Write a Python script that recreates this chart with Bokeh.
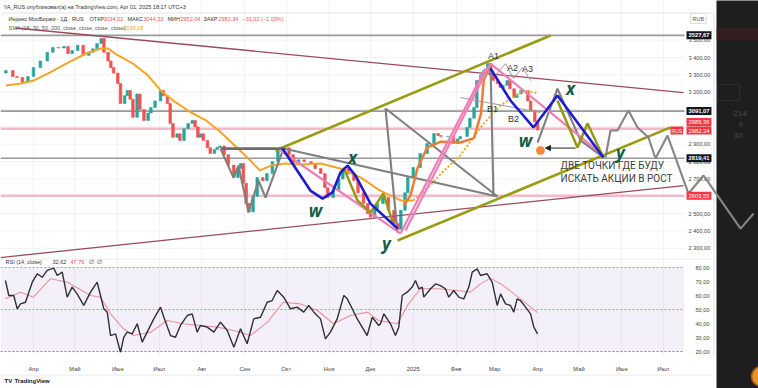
from bokeh.plotting import figure
from bokeh.layouts import row, column
from bokeh.models import (Range1d, FixedTicker, Label, BoxAnnotation,
                          Arrow, NormalHead, ColumnDataSource)
from bokeh.embed import file_html
from bokeh.resources import INLINE
from bokeh.core.properties import value

# ---------------- data (x = days since 2024-04-01) ----------------
candle_day = [-20, -15, -12, -8, -4, 0, 5, 10, 14, 18,
              22, 25, 28, 32, 36, 40, 43, 46, 49, 51,
              54, 56, 58, 61, 63, 66, 68, 70, 72, 75,
              77, 80, 83, 85, 88, 92, 94, 97, 99, 101,
              104, 106, 109, 112, 115, 117, 119, 121, 123, 126,
              128, 131, 133, 135, 138, 141, 145, 148, 150, 152,
              154, 156, 159, 162, 166, 169, 173, 177, 181, 185,
              188, 192, 196, 201, 204, 208, 211, 213, 217, 221,
              224, 228, 232, 235, 239, 242, 244, 247, 249, 253,
              257, 261, 264, 266, 269, 271, 275, 280, 285, 290,
              293, 295, 300, 304, 307, 309, 314, 316, 319, 321,
              324, 326, 329, 331, 333, 336, 338, 340, 343, 345,
              348, 350, 353, 355, 358, 360, 363, 365]
candle_close = [3325, 3290, 3285, 3256, 3290, 3342, 3380, 3430, 3458, 3455,
                3464, 3423, 3440, 3470, 3412, 3430, 3450, 3480, 3510, 3430,
                3380, 3342, 3310, 3250, 3135, 3180, 3210, 3160, 3055, 3190,
                3100, 3037, 3080, 3112, 3150, 3210, 3180, 3135, 3020, 2940,
                2960, 2922, 2990, 3020, 3037, 3000, 2940, 2960, 2922, 2880,
                2847, 2870, 2882, 2890, 2840, 2780, 2708, 2760, 2789, 2675,
                2560, 2510, 2600, 2708, 2690, 2731, 2800, 2864, 2880, 2840,
                2789, 2810, 2800, 2789, 2760, 2731, 2650, 2593, 2633, 2700,
                2760, 2730, 2691, 2620, 2558, 2500, 2480, 2530, 2558, 2593,
                2520, 2443, 2410, 2520, 2620, 2708, 2766, 2847, 2904, 2962,
                2950, 2945, 2945, 2904, 2930, 2945, 2997, 3050, 3112, 3267,
                3300, 3325, 3365, 3300, 3267, 3250, 3227, 3240, 3267, 3220,
                3170, 3190, 3210, 3210, 3150, 3095, 3030, 2982]
first_open = 3310

sma_day = [-20, -9, 0, 12, 25, 38, 49, 54, 59, 72, 83, 92, 103, 114, 125, 135, 148, 157,
           164, 172, 182, 193, 208, 222, 237, 251, 266, 275, 287, 295, 309, 326, 338, 355, 365]
sma_val = [3239, 3250, 3267, 3314, 3371, 3423, 3452, 3452, 3423, 3365, 3296, 3210, 3141, 3083,
           3037, 2973, 2875, 2806, 2749, 2777, 2789, 2783, 2789, 2760, 2708, 2633, 2576, 2576,
           2660, 2730, 2835, 3020, 3123, 3210, 3195]
sma_solid_until = 275

rsi_day = [-20.3, -17.9, -14.3, -11.8, -9.4, -5.8, -0.9, 2.7, 6.3, 9.9, 14.7, 17.2, 20.8, 24.4,
           28.0, 31.6, 36.4, 41.3, 46.1, 48.5, 50.9, 53.4, 55.8, 59.4, 63.0, 65.4, 67.8, 71.5,
           75.1, 78.7, 82.3, 87.1, 92.0, 94.4, 99.2, 102.8, 106.4, 111.3, 114.9, 118.5, 120.9,
           125.8, 130.6, 135.4, 140.3, 145.1, 149.9, 154.7, 159.5, 164.4, 169.2, 172.8, 176.5,
           181.2, 186.1, 190.9, 195.7, 199.3, 203.0, 207.8, 211.4, 215.0, 219.9, 224.7, 227.2,
           230.8, 234.4, 238.0, 241.6, 245.3, 250.0, 251.3, 253.7, 258.5, 262.1, 264.5, 267.0,
           270.6, 274.2, 276.6, 279.0, 281.5, 282.6, 287.5, 291.1, 294.7, 298.3, 300.7, 304.3,
           308.0, 311.6, 315.2, 317.7, 321.3, 323.7, 328.5, 332.1, 335.8, 338.2, 341.8, 345.4,
           347.8, 350.2, 352.6, 356.3, 359.9, 362.3, 365.0]
rsi_val = [70.7, 60.0, 60.0, 50.5, 54.0, 55.2, 69.5, 75.5, 73.0, 77.9, 79.5, 74.3, 76.7, 58.8,
           66.0, 61.2, 52.9, 62.4, 69.5, 60.0, 50.5, 48.1, 31.4, 32.6, 19.5, 30.2, 33.8, 32.6,
           39.8, 26.7, 33.8, 43.3, 51.7, 44.5, 31.4, 30.2, 38.6, 45.7, 46.9, 33.8, 38.6,
           37.4, 33.8, 41.0, 35.0, 23.1, 36.2, 25.5, 43.3, 44.5, 55.2, 56.4, 63.6,
           58.8, 50.5, 51.7, 48.1, 52.9, 48.1, 43.3, 29.0, 33.8, 43.3, 60.0, 57.6,
           50.5, 43.3, 37.4, 31.4, 44.5, 38.6, 39.8, 46.9, 39.8, 31.4, 37.4, 60.0,
           62.4, 66.0, 70.7, 64.8, 66.0, 58.8, 64.8, 68.3, 67.1, 64.8, 58.8, 63.6,
           58.8, 57.6, 66.0, 76.7, 79.0, 74.3, 75.5, 69.5, 52.9, 61.2, 54.0, 52.9,
           48.1, 57.6, 56.4, 51.7, 46.9, 37.4, 32.6]
rsi_ma_day = [-20.3, -9.4, 0, 12.3, 24.6, 41.3, 48.5, 55.8, 65.2, 72.4, 84.7, 97, 108.6, 120.9,
              133.2, 144.8, 157.1, 169.4, 181, 193.3, 205.6, 217.2, 229.5, 241.9, 249.8, 263.6,
              270.8, 280.2, 292.5, 307, 316.4, 323.7, 330.9, 340.3, 352.6, 365]
rsi_ma_val = [57.6, 62.4, 58.8, 72, 69.5, 60, 58.8, 46.9, 36.2, 31.4, 33.8, 42.1, 39.8, 38.6,
              37.4, 35, 31.4, 41, 55.2, 54, 49.3, 39.8, 45.7, 48.1, 42.1, 39.8,
              52.9, 64.8, 64.8, 63.6, 62.4, 68.3, 72.4, 67.1, 57.6, 47.8]

month_ticks = [0, 30, 61, 91, 122, 153, 183, 214, 244, 275, 306, 334, 365, 395, 426, 456]
month_labels = ["Апр", "Май", "Июн", "Июл", "Авг", "Сен", "Окт", "Ноя", "Дек", "2025",
                "Фев", "Мар", "Апр", "Май", "Июн", "Июл"]
price_ticks = [2300, 2400, 2500, 2600, 2700, 2800, 2900, 3000, 3100, 3200, 3300, 3400, 3500]
price_tick_labels = ["2 300,00", "2 400,00", "2 500,00", "2 600,00", "2 700,00", "2 800,00",
                     "2 900,00", "3 000,00", "3 100,00", "3 200,00", "3 300,00", "3 400,00",
                     "3 500,00"]
rsi_ticks = [20, 30, 40, 50, 60, 70, 80]
rsi_tick_labels = ["20,00", "30,00", "40,00", "50,00", "60,00", "70,00", "80,00"]
rsi_bands = [80, 50, 20]

gray_levels = [3527.67, 3091.07, 2819.41]
gray_level_text = ["3527,67", "3091,07", "2819,41"]
pink_levels = [2989.36, 2603.55]

# hand drawings (days, prices)
maroon_x = [[-13, 470.7], [-23.9, 470.7]]
maroon_y = [[3570, 3198], [2247, 2662]]
olive_ch_x = [[175.2, 374.4], [263.6, 461.3]]
olive_ch_y = [[2864, 3527], [2345, 2997]]
olive_zz_x = [[224.5, 234.6, 244, 253.4, 260.7], [379.4, 393.9, 401.2, 412.7]]
olive_zz_y = [[2766, 2576, 2507, 2616, 2437], [3152, 2881, 3020, 2824]]
gray_hz_x = [135.4, 182.5]
gray_hz_y = [2875, 2875]
gray_x = [[135.4, 144.8, 148.4, 155.7, 162.9, 168, 181], [181, 336], [254.9, 263.6],
          [254.9, 336], [330.9, 333.1], [365, 379.4, 396.1, 412.7]]
gray_y = [[2875, 2708, 2777, 2507, 2691, 2593, 2875], [2875, 2599], [3106, 2391],
          [3106, 2599], [3365, 2599], [2910, 3221, 2922, 2824]]
forecast_x = [414.2, 417.8, 422.9, 430.8, 437.4, 445.3, 450.4, 459.1, 474.3, 485.2, 512, 521.4]
forecast_y = [2824, 2979, 2979, 3095, 2997, 2939, 2818, 2950, 2616, 2720, 2414, 2501]
thin_x = [[309.2, 367.1], [333.1, 341.8, 347.6, 354.1, 359.9]]
thin_y = [[3169, 3083], [3285, 3365, 3279, 3342, 3267]]
pink_x = [[178.9, 265.7], [265.7, 327.3], [269.4, 330.9], [330.9, 412.7]]
pink_y = [[2864, 2386], [2386, 3337], [2403, 3365], [3365, 2835]]
blue_x = [[180.3, 193.3, 200.5, 209.3, 216.5, 222.3, 227.4, 233.1, 244, 263.6],
          [330.9, 345.4, 362, 379.4, 412.7]]
blue_y = [[2875, 2720, 2633, 2587, 2622, 2737, 2777, 2720, 2558, 2414],
          [3337, 3152, 2997, 3181, 2824]]
orange_x = [268, 273, 278, 285, 295, 309, 319, 324, 326, 331]
orange_y = [2547, 2605, 2760, 2880, 2915, 2910, 2935, 3077, 3267, 3365]
wave_text = ["A1", "A2", "A3", "B1", "B2"]
wave_x = [333.1, 346.8, 357.7, 332.4, 347.6]
wave_y = [3411, 3342, 3331, 3106, 3048]
hand_text = ["w", "x", "y", "w", "x", "y"]
hand_x = [204.2, 231, 255.6, 356.3, 388.8, 425]
hand_y = [2518, 2824, 2328, 2922, 3221, 2852]

# ---------------- layout helpers (screen pixels of the 758x388 page) ----------------
W, H = 758, 388


def day_at(px):
    return (px - 33) / 1.381


def price_at(py):
    return 3400 - (py - 57) / 0.1735


def rsi_at(py):
    return 80 - (py - 267) / 1.4


MAIN_W = 716          # white chart area; dark side panel beyond it
PANE_R = 684          # right edge of the chart panes (price scale to the right)
PRICE_H = 258
RSI_H = 116
RSI_AX = 19
FOOT_H = H - PRICE_H - RSI_H
FONT = "Liberation Sans"
GRID = "#f1f2f5"
BORDER = "#e3e5ea"
x0, x1 = day_at(0), day_at(PANE_R)

# ---------------- price pane ----------------
p = figure(width=MAIN_W, height=PRICE_H,
           x_range=Range1d(day_at(0), day_at(MAIN_W)),
           y_range=Range1d(price_at(PRICE_H), price_at(0)),
           output_backend="svg", toolbar_location=None,
           x_axis_location=None, y_axis_location=None, min_border=0)
p.outline_line_color = None
p.xgrid.ticker = FixedTicker(ticks=month_ticks)
p.xgrid.grid_line_color = GRID
p.ygrid.grid_line_color = None
p.segment(x0=[x0] * len(price_ticks), x1=[x1] * len(price_ticks), y0=price_ticks, y1=price_ticks,
          line_color=GRID, line_width=1)
p.segment(x0=[x0], x1=[day_at(713)], y0=[price_at(12.5)], y1=[price_at(12.5)],
          line_color=BORDER, line_width=1)
p.segment(x0=[day_at(713.5)], x1=[day_at(713.5)], y0=[price_at(12.5)], y1=[price_at(PRICE_H)],
          line_color=BORDER, line_width=1)
p.segment(x0=[x0] * 3, x1=[x1] * 3, y0=gray_levels, y1=gray_levels,
          line_color="#9a9a9a", line_width=1.6)
p.segment(x0=[x0] * 2, x1=[x1] * 2, y0=pink_levels, y1=pink_levels,
          line_color="#f4b8c6", line_width=2.4)

# price scale labels
p.text(x=[day_at(688)] * len(price_ticks), y=price_ticks, text=price_tick_labels,
       text_font=value(FONT), text_font_size="5.6px", text_color="#444444",
       text_align="left", text_baseline="middle")

opens = [first_open] + candle_close[:-1]
cols = ["#26a69a" if c >= o else "#ef5350" for o, c in zip(opens, candle_close)]
csrc = ColumnDataSource(dict(x=candle_day, top=[max(o, c) for o, c in zip(opens, candle_close)],
                             bottom=[min(o, c) for o, c in zip(opens, candle_close)], color=cols))
p.vbar(x="x", width=1.9, top="top", bottom="bottom", fill_color="color", line_color="color",
       line_width=0.6, source=csrc)

k = sma_day.index(sma_solid_until)
p.line(sma_day[:k + 1], sma_val[:k + 1], line_color="#f5a425", line_width=2)
p.line(sma_day[k:], sma_val[k:], line_color="#f5a425", line_width=2, line_dash="2 2")

p.multi_line(maroon_x, maroon_y, line_color="#9b4a5c", line_width=1.3)
p.multi_line(olive_ch_x, olive_ch_y, line_color="#999c12", line_width=2.6)
p.line(gray_hz_x, gray_hz_y, line_color="#6b6b6b", line_width=2.6)
p.multi_line(gray_x, gray_y, line_color="#7f7f7f", line_width=2.1)
p.multi_line(thin_x, thin_y, line_color="#9a9a9a", line_width=1)
p.line(forecast_x, forecast_y, line_color="#858585", line_width=2.1)
p.line(orange_x, orange_y, line_color="#f07b34", line_width=2.5)
p.multi_line(pink_x, pink_y, line_color="#f07cb6", line_width=2.2)
p.multi_line(olive_zz_x, olive_zz_y, line_color="#949a10", line_width=2.5)
p.multi_line(blue_x, blue_y, line_color="#1c1cd0", line_width=2.6)
p.scatter([367.1], [2864], size=8, marker="circle", fill_color="#f08a3c", line_color="#f08a3c")
p.add_layout(Arrow(end=NormalHead(size=5, fill_color="#222222", line_color="#222222", line_width=1),
                   x_start=392.5, y_start=2878, x_end=370.7, y_end=2878,
                   line_color="#222222", line_width=1))

p.text(wave_x, wave_y, text=wave_text, text_font=value(FONT), text_font_size="9px",
       text_color="#333333", text_align="center", text_baseline="middle")
p.text(hand_x, hand_y, text=hand_text, text_font=value("Noto Sans"), text_font_size="17px",
       text_font_style="bold italic", text_color="#0f5e4a", text_align="center",
       text_baseline="middle")
p.text([day_at(560), day_at(560)], [price_at(165), price_at(178)],
       text=["ДВЕ ТОЧКИ ГДЕ БУДУ", "ИСКАТЬ АКЦИИ В РОСТ"],
       text_font=value("Roboto"), text_font_size="10px", text_color="#3d3d3d",
       text_align="left", text_baseline="middle")

# header texts
hdr = [
    (3, 6, "YA_RUS опубликовал(а) на TradingView.com, Apr 01, 2025 18:17 UTC+3", "#333333"),
    (8, 18, "Индекс МосБиржи · 1Д · RUS", "#333333"),
    (89, 18, "ОТКР", "#333333"), (103, 18, "3034,02", "#ef5350"),
    (127, 18, "МАКС", "#333333"), (143, 18, "3044,23", "#ef5350"),
    (167, 18, "МИН", "#333333"), (180, 18, "2952,04", "#ef5350"),
    (203, 18, "ЗАКР", "#333333"), (218, 18, "2982,34", "#ef5350"),
    (242, 18, "−31,02 (−1,03%)", "#ef5350"),
    (8, 27, "SMA (18, 30, 50, 200, close, close, close, close)", "#555555"),
    (123, 27, "3195,18", "#f5a425"),
]
for hx, hy, ht, hc in hdr:
    p.add_layout(Label(x=day_at(hx), y=price_at(hy), text=ht, text_color=hc,
                       text_font_size="5.5px", text_font=FONT, text_baseline="middle"))

# price scale boxes
box_x = day_at(686)
for lv, txt in zip(gray_levels, gray_level_text):
    p.add_layout(Label(x=box_x, y=lv, text=txt, text_color="white", text_font_size="5.8px",
                       text_font=FONT, text_font_style="bold", text_baseline="middle",
                       background_fill_color="#131722", padding=2))
for yy, txt in [(price_at(121.5), "2989,36"), (price_at(130), "2982,34"), (2603.55, "2603,55")]:
    p.add_layout(Label(x=box_x, y=yy, text=txt, text_color="white", text_font_size="5.8px",
                       text_font=FONT, text_baseline="middle",
                       background_fill_color="#f23645", padding=2))
p.add_layout(Label(x=day_at(670), y=price_at(130), text="RUS", text_color="white",
                   text_font_size="5px", text_font=FONT, text_baseline="middle",
                   background_fill_color="#f23645", padding=1))
p.add_layout(Label(x=day_at(690), y=price_at(18), text="RUB", text_color="#555555",
                   text_font_size="5.5px", text_font=FONT, text_baseline="middle",
                   border_line_color="#dddddd", padding=2))

# ---------------- RSI pane ----------------
r = figure(width=MAIN_W, height=RSI_H, x_range=Range1d(day_at(0), day_at(MAIN_W)),
           y_range=Range1d(rsi_at(PRICE_H + RSI_H - RSI_AX), rsi_at(PRICE_H)),
           output_backend="svg", toolbar_location=None,
           x_axis_location="below", y_axis_location=None,
           min_border_left=0, min_border_right=0, min_border_top=0,
           min_border_bottom=RSI_AX)
r.outline_line_color = None
r.xgrid.ticker = FixedTicker(ticks=month_ticks)
r.xgrid.grid_line_color = GRID
r.ygrid.grid_line_color = None
r.xaxis.ticker = FixedTicker(ticks=month_ticks)
r.xaxis.major_label_overrides = dict(zip(month_ticks, month_labels))
r.xaxis.axis_line_color = None
r.xaxis.major_tick_line_color = None
r.xaxis.minor_tick_line_color = None
r.xaxis.major_label_text_font_size = "5.8px"
r.xaxis.major_label_text_color = "#444444"
r.xaxis.major_label_text_font = FONT
r.xaxis.major_label_standoff = 4

r.add_layout(BoxAnnotation(left=x0, right=x1, bottom=20, top=80, fill_color="#7e57c2",
                           fill_alpha=0.09, line_color=None))
r.segment(x0=[x0, x0], x1=[x1, x1], y0=[80, 50], y1=[80, 50], line_color="#e88a8a",
          line_width=1, line_dash="2 2")
r.segment(x0=[x0], x1=[x1], y0=[20], y1=[20], line_color="#6f86c9", line_width=1,
          line_dash="2 2")
r.segment(x0=[x0], x1=[day_at(713)], y0=[rsi_at(258.5)], y1=[rsi_at(258.5)],
          line_color=BORDER, line_width=1)
r.segment(x0=[day_at(713.5)], x1=[day_at(713.5)], y0=[rsi_at(258)], y1=[rsi_at(PRICE_H + RSI_H)],
          line_color=BORDER, line_width=1)
r.text(x=[day_at(695)] * len(rsi_ticks), y=rsi_ticks, text=rsi_tick_labels,
       text_font=value(FONT), text_font_size="5.6px", text_color="#444444",
       text_align="left", text_baseline="middle")
r.line(rsi_ma_day, rsi_ma_val, line_color="#f29a9a", line_width=1.1)
r.line(rsi_day, rsi_val, line_color="#2b2b2b", line_width=1.4)

for hx, ht, hc in [(5, "RSI (14, close)", "#333333"), (52, "32,62", "#333333"),
                   (70, "47,76", "#ef5350"), (88, "∅", "#333333"), (96, "∅", "#333333")]:
    r.add_layout(Label(x=day_at(hx), y=rsi_at(261), text=ht, text_color=hc,
                       text_font_size="5.5px", text_font=FONT, text_baseline="middle"))

# ---------------- footer ----------------
f = figure(width=MAIN_W, height=FOOT_H, x_range=Range1d(0, MAIN_W), y_range=Range1d(0, FOOT_H),
           output_backend="svg", toolbar_location=None, x_axis_location=None, y_axis_location=None,
           min_border=0)
f.outline_line_color = None
f.grid.visible = False
f.segment(x0=[0], x1=[713], y0=[FOOT_H - 0.5], y1=[FOOT_H - 0.5], line_color=BORDER)
f.text([4, 14], [FOOT_H - 6, FOOT_H - 6], text=["TV", "TradingView"],
       text_font=value(FONT), text_font_size="6px", text_font_style="bold",
       text_color="#131722", text_baseline="middle")

# ---------------- dark side panel ----------------
d = figure(width=W - MAIN_W, height=H, x_range=Range1d(day_at(MAIN_W), day_at(W)),
           y_range=Range1d(price_at(H), price_at(0)),
           output_backend="svg", toolbar_location=None, x_axis_location=None, y_axis_location=None,
           min_border=0, background_fill_color="#1e1e1e", border_fill_color="#1e1e1e")
d.outline_line_color = None
d.grid.visible = False
d.quad(left=day_at(716), right=day_at(760), top=price_at(27), bottom=price_at(40),
       fill_color="#341d1f", line_color=None)
d.quad(left=day_at(717), right=day_at(739), top=price_at(84), bottom=price_at(100),
       fill_color=None, line_color="#2e2e2e")
d.text([day_at(733), day_at(738), day_at(733)], [price_at(113), price_at(124), price_at(135)],
       text=["214", "9", "30"], text_font=value(FONT), text_font_size="8px",
       text_color="#4a4a4a", text_baseline="middle")
d.line(forecast_x, forecast_y, line_color="#858585", line_width=2.1)
d.scatter([day_at(761)], [price_at(376)], size=20, marker="circle",
          fill_color="#e8922b", line_color="#9a5a10", line_width=1.5)

layout = row(column(p, r, f, spacing=0), d, spacing=0)
open("out.html", "w").write(file_html(layout, INLINE))
